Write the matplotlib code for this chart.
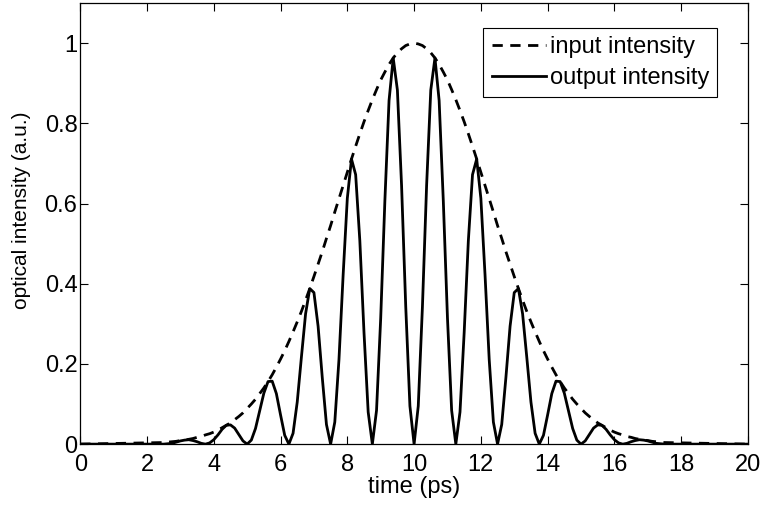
import numpy as np
import matplotlib
matplotlib.use("Agg")
import matplotlib.pyplot as plt
from matplotlib.ticker import FuncFormatter

plt.rcParams['font.family'] = ['Liberation Sans', 'DejaVu Sans']

# samples every 0.125 ps between 2.5 and 17.5 ps, flat zero outside
t_start, t_stop, n_samples = 2.5, 17.5, 121
time = np.linspace(t_start, t_stop, n_samples)

# input (gaussian pulse) intensity
input_intensity = [
    0.004, 0.005, 0.006, 0.007, 0.009, 0.010, 0.012, 0.014, 0.017, 0.019,   # 2.5 .. 3.625
    0.023, 0.026, 0.030, 0.035, 0.041, 0.047, 0.053, 0.061, 0.069, 0.078,   # 3.75 .. 4.875
    0.089, 0.100, 0.112, 0.126, 0.140, 0.156, 0.173, 0.192, 0.212, 0.233,   # 5.0 .. 6.125
    0.256, 0.280, 0.305, 0.331, 0.359, 0.388, 0.418, 0.449, 0.480, 0.513,   # 6.25 .. 7.375
    0.545, 0.579, 0.612, 0.645, 0.678, 0.711, 0.743, 0.774, 0.804, 0.832,   # 7.5 .. 8.625
    0.859, 0.884, 0.908, 0.928, 0.947, 0.963, 0.976, 0.986, 0.994, 0.998,   # 8.75 .. 9.875
    1.000,                                                                   # 10.0
    0.998, 0.994, 0.986, 0.976, 0.963, 0.947, 0.928, 0.908, 0.884, 0.859,   # 10.125 .. 11.25
    0.832, 0.804, 0.774, 0.743, 0.711, 0.678, 0.645, 0.612, 0.579, 0.545,   # 11.375 .. 12.5
    0.513, 0.480, 0.449, 0.418, 0.388, 0.359, 0.331, 0.305, 0.280, 0.256,   # 12.625 .. 13.75
    0.233, 0.212, 0.192, 0.173, 0.156, 0.140, 0.126, 0.112, 0.100, 0.089,   # 13.875 .. 15.0
    0.078, 0.069, 0.061, 0.053, 0.047, 0.041, 0.035, 0.030, 0.026, 0.023,   # 15.125 .. 16.25
    0.019, 0.017, 0.014, 0.012, 0.010, 0.009, 0.007, 0.006, 0.005, 0.004,   # 16.375 .. 17.5
]

# output intensity
output_intensity = [
    0.000, 0.001, 0.002, 0.005, 0.008, 0.010, 0.011, 0.009, 0.006, 0.002,   # 2.5 .. 3.625
    0.000, 0.003, 0.011, 0.023, 0.037, 0.047, 0.048, 0.040, 0.024, 0.008,   # 3.75 .. 4.875
    0.000, 0.010, 0.039, 0.083, 0.127, 0.156, 0.157, 0.126, 0.073, 0.022,   # 5.0 .. 6.125
    0.000, 0.027, 0.105, 0.217, 0.325, 0.388, 0.378, 0.294, 0.166, 0.049,   # 6.25 .. 7.375
    0.000, 0.055, 0.211, 0.422, 0.613, 0.711, 0.672, 0.507, 0.278, 0.080,   # 7.5 .. 8.625
    0.000, 0.084, 0.314, 0.607, 0.857, 0.963, 0.883, 0.645, 0.343, 0.095,   # 8.75 .. 9.875
    0.000,                                                                   # 10.0
    0.095, 0.343, 0.645, 0.883, 0.963, 0.857, 0.607, 0.314, 0.084, 0.000,   # 10.125 .. 11.25
    0.080, 0.278, 0.507, 0.672, 0.711, 0.613, 0.422, 0.211, 0.055, 0.000,   # 11.375 .. 12.5
    0.049, 0.166, 0.294, 0.378, 0.388, 0.325, 0.217, 0.105, 0.027, 0.000,   # 12.625 .. 13.75
    0.022, 0.073, 0.126, 0.157, 0.156, 0.127, 0.083, 0.039, 0.010, 0.000,   # 13.875 .. 15.0
    0.008, 0.024, 0.040, 0.048, 0.047, 0.037, 0.023, 0.011, 0.003, 0.000,   # 15.125 .. 16.25
    0.002, 0.006, 0.009, 0.011, 0.010, 0.008, 0.005, 0.002, 0.001, 0.000,   # 16.375 .. 17.5
]

x_min, x_max = 0, 20
x_ticks = [0, 2, 4, 6, 8, 10, 12, 14, 16, 18, 20]
y_ticks = [0, 0.2, 0.4, 0.6, 0.8, 1.0]

# pad with zeros out to the plot edges
t_full = np.concatenate(([x_min], time, [x_max]))
inp = np.concatenate(([0.0], input_intensity, [0.0]))
out = np.concatenate(([0.0], output_intensity, [0.0]))

fig = plt.figure(figsize=(7.64, 5.07), dpi=100)
ax = fig.add_axes([0.105, 0.124, 0.874, 0.870])

ax.plot(t_full, inp, color='black', lw=2.0, linestyle=(0, (3.7, 2.7)), label='input intensity')
ax.plot(t_full, out, color='black', lw=2.0, label='output intensity')

ax.set_xlim(x_min, x_max)
ax.set_ylim(0, 1.1)
ax.set_xticks(x_ticks)
ax.set_yticks(y_ticks)
ax.yaxis.set_major_formatter(FuncFormatter(lambda v, p: '%g' % v))
ax.tick_params(direction='in', top=True, right=True, length=6, width=0.8,
               labelsize=17)
ax.tick_params(axis='x', pad=7)
ax.tick_params(axis='y', pad=2)
for s in ax.spines.values():
    s.set_linewidth(0.9)

ax.set_xlabel('time (ps)', fontsize=17, labelpad=0)
ax.set_ylabel('optical intensity (a.u.)', fontsize=15)
ax.yaxis.set_label_coords(-0.074, 0.53)

leg = ax.legend(loc='upper right', bbox_to_anchor=(0.954, 0.943), fontsize=17,
                frameon=True, fancybox=False, edgecolor='black', framealpha=1,
                handlelength=2.3, handletextpad=0.15, borderpad=0.35,
                labelspacing=0.36, borderaxespad=0)
leg.get_frame().set_linewidth(0.8)

fig.savefig('out.png', dpi=100)
